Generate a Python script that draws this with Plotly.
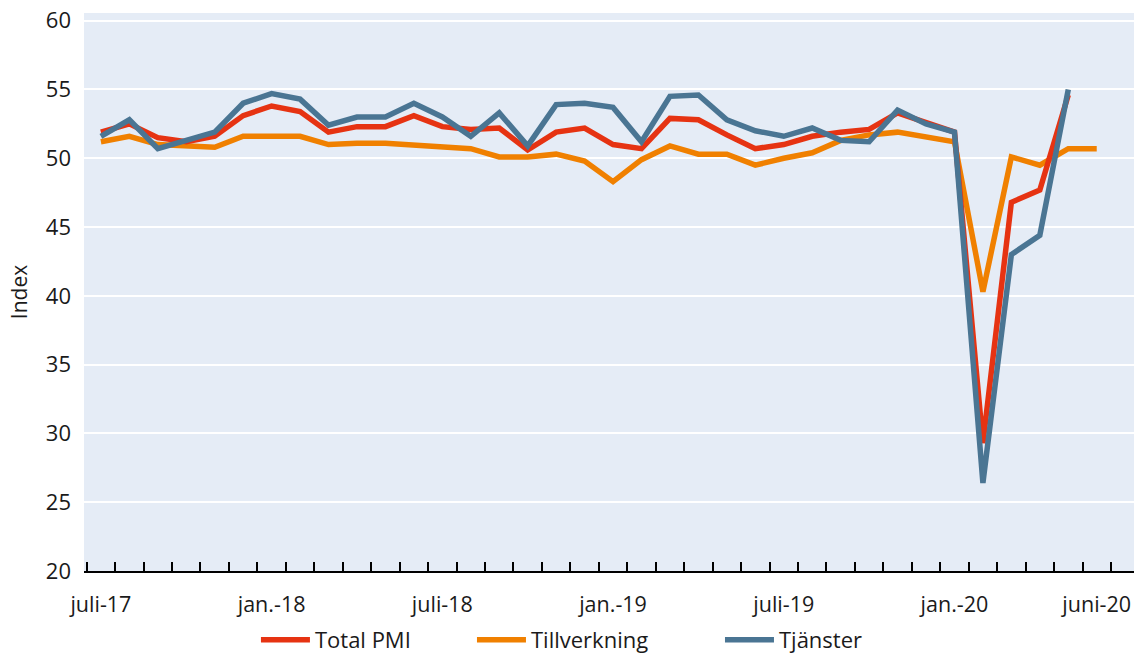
import plotly.graph_objects as go

months = [
    "juli-17", "aug.-17", "sep.-17", "okt.-17", "nov.-17", "dec.-17",
    "jan.-18", "feb.-18", "mars-18", "apr.-18", "maj-18", "juni-18",
    "juli-18", "aug.-18", "sep.-18", "okt.-18", "nov.-18", "dec.-18",
    "jan.-19", "feb.-19", "mars-19", "apr.-19", "maj-19", "juni-19",
    "juli-19", "aug.-19", "sep.-19", "okt.-19", "nov.-19", "dec.-19",
    "jan.-20", "feb.-20", "mars-20", "apr.-20", "maj-20", "juni-20",
]
tick_labels = ["juli-17", "jan.-18", "juli-18", "jan.-19", "juli-19", "jan.-20", "juni-20"]

total_pmi = [
    51.9, 52.5, 51.5, 51.2, 51.6, 53.1, 53.8, 53.4, 51.9, 52.3, 52.3, 53.1,
    52.3, 52.1, 52.2, 50.6, 51.9, 52.2, 51.0, 50.7, 52.9, 52.8, 51.7, 50.7,
    51.0, 51.6, 51.9, 52.1, 53.3, 52.6, 51.9, 29.3, 46.8, 47.7, 54.6,
]
tillverkning = [
    51.2, 51.6, 51.0, 50.9, 50.8, 51.6, 51.6, 51.6, 51.0, 51.1, 51.1, 51.0,
    50.8, 50.7, 50.1, 50.1, 50.3, 49.8, 48.3, 49.9, 50.9, 50.3, 50.3, 49.5,
    50.0, 50.4, 51.3, 51.7, 51.9, 51.6, 51.2, 40.3, 50.1, 49.5, 50.7, 50.7,
]
tjanster = [
    51.6, 52.8, 50.7, 51.3, 51.9, 54.0, 54.7, 54.3, 52.4, 53.0, 53.0, 54.0,
    53.0, 51.6, 53.3, 50.9, 53.9, 54.0, 53.7, 51.2, 54.5, 54.6, 52.8, 52.0,
    51.6, 52.2, 51.3, 51.2, 53.5, 52.5, 51.9, 26.4, 43.0, 44.4, 55.0,
]

RED = "#E63312"
ORANGE = "#F08000"
BLUE = "#4A7593"
FONT = "Open Sans"
TXT = "#1a1a1a"
LW = 5.5

fig = go.Figure()
fig.add_trace(go.Scatter(x=months[:len(tillverkning)], y=tillverkning, mode="lines",
                         name="Tillverkning", line=dict(color=ORANGE, width=LW), legend="legend2"))
fig.add_trace(go.Scatter(x=months[:len(total_pmi)], y=total_pmi, mode="lines",
                         name="Total PMI", line=dict(color=RED, width=LW), legend="legend"))
fig.add_trace(go.Scatter(x=months[:len(tjanster)], y=tjanster, mode="lines",
                         name="Tjänster", line=dict(color=BLUE, width=LW), legend="legend3"))

leg_common = dict(orientation="h", xanchor="left", xref="container", yref="container",
                  y=0.0229, yanchor="middle",
                  font=dict(family=FONT, size=22, color=TXT), bgcolor="rgba(0,0,0,0)",
                  itemwidth=49)

fig.update_layout(
    width=1134, height=655,
    margin=dict(l=84, r=0, t=13, b=84, autoexpand=False),
    plot_bgcolor="#E5ECF6", paper_bgcolor="white",
    font=dict(family=FONT, size=22, color=TXT),
    showlegend=True,
    legend=dict(x=0.2257, **leg_common),
    legend2=dict(x=0.4162, **leg_common),
    legend3=dict(x=0.6349, **leg_common),
    xaxis=dict(
        type="category", categoryorder="array", categoryarray=months,
        range=[-0.594, 36.31], automargin=False,
        tickmode="array", tickvals=months,
        ticktext=[m if m in tick_labels else "" for m in months],
        tickangle=0,
        tickson="boundaries", ticks="inside", ticklen=9, tickwidth=2, tickcolor="black",
        showline=True, linecolor="black", linewidth=2, showgrid=False, zeroline=False,
        tickfont=dict(family=FONT, size=21.5, color=TXT), ticklabelstandoff=13,
    ),
    yaxis=dict(
        range=[20, 60.56], automargin=False, tickmode="array", tickvals=list(range(20, 61, 5)),
        showgrid=True, gridcolor="white", gridwidth=2, zeroline=False, showline=False,
        ticks="", tickfont=dict(family=FONT, size=22, color=TXT), ticklabelstandoff=12,
        ticklabeloverflow="allow",
        title=dict(text="Index", font=dict(family=FONT, size=21, color=TXT), standoff=12),
    ),
)

fig.write_html("out.html", config={"displayModeBar": False},
               post_script="document.body.style.margin='0px';")
